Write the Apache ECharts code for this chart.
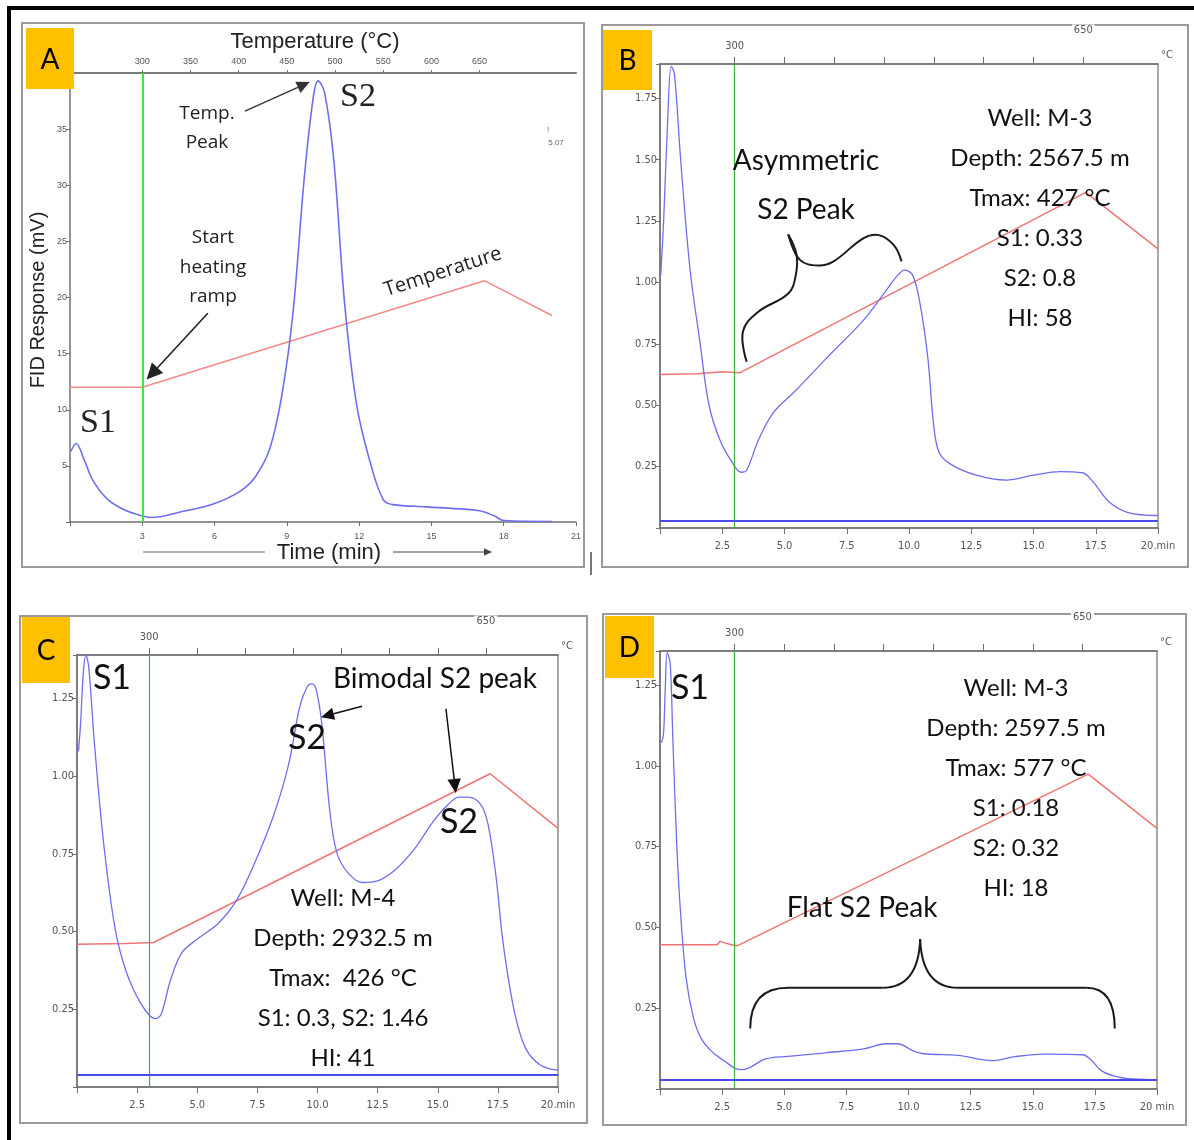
<!DOCTYPE html>
<html><head><meta charset="utf-8">
<script src="https://cdn.jsdelivr.net/npm/echarts@6/dist/echarts.min.js"></script>
<style>html,body{margin:0;padding:0;background:#fff}#c{width:1194px;height:1140px}</style>
</head><body><div id="c"></div>
<script>
// ---------------- DATA (time in min, response) ----------------
const tempTicksA = [300, 350, 400, 450, 500, 550, 600, 650];
const tempTicksBCD = [300, 350, 400, 450, 500, 550, 600, 650];

const fidA = [[0.03,6.3],[0.26,7.0],[0.57,5.65],[0.95,3.7],[1.57,2.0],[2.34,1.0],[3.0,0.55],[3.4,0.4],[4.5,0.85],[6.0,1.65],[7.1,2.8],[7.7,4.05],[8.3,6.6],[8.8,11.4],[9.26,18.75],[9.72,30.6],[10.1,37.9],[10.3,39.3],[10.57,38.2],[10.95,32.2],[11.4,19.4],[11.9,10.4],[12.5,5.0],[13.0,2.0],[13.4,1.55],[14.8,1.35],[17.0,1.0],[17.6,0.55],[18.0,0.13],[20.0,0.05]];
const tempA = [[-0.35,12.0],[3.0,12.0],[17.2,21.5],[20.0,18.4]];

const fidB = [[0.03,1.03],[0.15,1.26],[0.3,1.64],[0.45,1.88],[0.58,1.85],[0.83,1.50],[1.2,1.06],[1.6,0.76],[1.97,0.50],[2.42,0.355],[2.88,0.27],[3.26,0.227],[3.48,0.235],[3.94,0.355],[4.55,0.47],[5.45,0.56],[6.67,0.69],[8.2,0.85],[9.1,0.97],[9.55,1.03],[9.82,1.05],[10.15,1.03],[10.45,0.91],[10.76,0.69],[10.98,0.43],[11.2,0.31],[11.67,0.26],[12.7,0.215],[13.9,0.195],[15.0,0.215],[16.06,0.23],[16.97,0.225],[17.4,0.187],[18.03,0.107],[18.8,0.063],[20.0,0.051]];
const tempB = [[0,0.625],[1.5,0.628],[2.5,0.636],[3.2,0.632],[17.1,1.367],[20,1.137]];
const baseB = 0.034;

const fidC = [[0.06,1.08],[0.15,1.17],[0.26,1.33],[0.37,1.39],[0.49,1.35],[0.72,1.11],[1.1,0.79],[1.57,0.516],[2.03,0.375],[2.65,0.27],[3.26,0.22],[3.5,0.234],[3.88,0.342],[4.34,0.43],[4.95,0.473],[5.88,0.527],[6.65,0.603],[7.4,0.723],[8.18,0.875],[8.8,1.038],[9.26,1.223],[9.57,1.288],[9.77,1.297],[9.95,1.277],[10.18,1.168],[10.5,0.897],[10.8,0.755],[11.26,0.69],[11.88,0.658],[12.49,0.663],[13.26,0.701],[14.03,0.766],[14.8,0.853],[15.42,0.908],[15.88,0.933],[16.26,0.933],[16.8,0.908],[17.1,0.842],[17.42,0.679],[17.72,0.462],[18.18,0.245],[18.65,0.125],[19.26,0.071],[20.0,0.054]];
const tempC = [[0,0.459],[2.0,0.462],[3.18,0.465],[17.18,1.008],[20,0.832]];
const baseC = 0.038;

const fidD = [[0.06,1.071],[0.14,1.097],[0.21,1.233],[0.29,1.35],[0.41,1.317],[0.52,1.076],[0.67,0.763],[0.82,0.553],[1.05,0.344],[1.35,0.219],[1.66,0.156],[2.11,0.114],[2.57,0.088],[3.02,0.064],[3.33,0.06],[3.63,0.067],[4.24,0.093],[5.15,0.101],[6.67,0.112],[8.19,0.124],[9.1,0.14],[9.56,0.14],[10.17,0.119],[10.62,0.109],[11.99,0.104],[13.36,0.088],[14.27,0.1],[15.49,0.108],[17.0,0.106],[17.31,0.093],[17.77,0.056],[18.37,0.038],[18.83,0.032],[19.5,0.03],[20,0.028]];
const tempD = [[0,0.446],[2.3,0.446],[2.42,0.457],[2.6,0.452],[2.87,0.446],[3.1,0.443],[17.23,0.974],[20,0.806]];
const baseD = 0.032;

const infoB = ['Well: M-3','Depth: 2567.5 m','Tmax: 427 °C','S1: 0.33','S2: 0.8','HI: 58'];
const infoC = ['Well: M-4','Depth: 2932.5 m','Tmax:  426 °C','S1: 0.3, S2: 1.46','HI: 41'];
const infoD = ['Well: M-3','Depth: 2597.5 m','Tmax: 577 °C','S1: 0.18','S2: 0.32','HI: 18'];

// ---------------- STYLE ----------------
const BLUE = '#6e6ef0', RED = '#f07474', AX = '#707070', LBL = '#555';
const NARROW = '"Liberation Sans Narrow","DejaVu Sans Condensed","Liberation Sans",sans-serif';
const CAL = 'Lato,"Open Sans",sans-serif';

const chart = echarts.init(document.getElementById('c'));

const gridsPx = [
  {left:70, top:73, width:506, height:449, show:false},
  {left:660, top:64, width:498, height:464, show:true, borderColor:'#8c8c8c', borderWidth:1.5},
  {left:77, top:655, width:481, height:432, show:true, borderColor:'#8c8c8c', borderWidth:1.5},
  {left:660, top:651, width:497, height:438, show:true, borderColor:'#8c8c8c', borderWidth:1.5}
];
const yMax = [40, 1.89, 1.39, 1.355];
const xMax = [21, 20, 20, 20];

function isMult(v, s){ return Math.abs(v/s - Math.round(v/s)) < 1e-6; }

const xAxes = [], yAxes = [];
for (let g = 0; g < 4; g++) {
  const isA = g === 0;
  xAxes.push({
    type:'value', gridIndex:g, min:0, max:xMax[g], interval: isA ? 3 : 2.5,
    axisLine:{show:true, onZero:false, lineStyle:{color:AX, width:1.5}},
    axisTick:{show:true, length: isA ? 4 : 6, lineStyle:{color:AX}},
    splitLine:{show:false},
    axisLabel:{
      fontSize: isA ? 9 : 11, color:LBL, fontFamily: isA ? '"Liberation Sans",sans-serif' : NARROW, margin: isA ? 10 : 13,
      formatter: v => {
        if (v === 0) return '';
        if (isA) return String(v);
        if (v === 20) return g === 3 ? '20 min' : '20.min';
        return v.toFixed(1);
      }
    }
  });
  xAxes.push({
    type:'value', gridIndex:g, position:'top', min:225, max: isA ? 750 : 725,
    axisLine:{show:true, onZero:false, lineStyle:{color: isA ? '#7a7a7a' : AX, width: isA ? 2 : 1.5}},
    axisTick:{show:true, length: isA ? 3 : 7, customValues: isA ? tempTicksA : tempTicksBCD, lineStyle:{color:AX}},
    splitLine:{show:false},
    axisLabel:{show:isA, customValues: tempTicksA, fontSize:9, color:LBL, margin:7, fontFamily:'"Liberation Sans",sans-serif'}
  });
  const step = isA ? 5 : 0.25;
  yAxes.push({
    type:'value', gridIndex:g, min:0, max:yMax[g], interval: step,
    axisLine:{show:true, onZero:false, lineStyle:{color:AX, width:1.5}},
    axisTick:{show:true, length:4, lineStyle:{color:AX}},
    splitLine:{show:false},
    axisLabel:{
      fontSize: isA ? 9 : 11, color:LBL, fontFamily: isA ? '"Liberation Sans",sans-serif' : NARROW, margin:3,
      formatter: v => {
        if (v <= 0 || !isMult(v, step) || v > yMax[g] - step*0.3) return '';
        return isA ? String(v) : v.toFixed(2);
      }
    }
  });
}

function ml(baseline, isA) {
  const d = [{xAxis:3, lineStyle:{color: isA ? '#3ee83e' : '#3fae3f', width: isA ? 2 : 1.2, type:'solid'}}];
  if (baseline != null) d.push({yAxis:baseline, lineStyle:{color:'#4a4ae8', width:2, type:'solid'}});
  return {silent:true, symbol:['none','none'], label:{show:false}, animation:false, data:d};
}

const fids = [fidA, fidB, fidC, fidD];
const temps = [tempA, tempB, tempC, tempD];
const bases = [null, baseB, baseC, baseD];
const series = [];
for (let g = 0; g < 4; g++) {
  series.push({type:'line', xAxisIndex:2*g, yAxisIndex:g, data:temps[g], showSymbol:false, clip: g !== 0,
    lineStyle:{color: g===0 ? '#f38a8a' : RED, width:1.5}, z:2});
  series.push({type:'line', xAxisIndex:2*g, yAxisIndex:g, data:fids[g], showSymbol:false, smooth:0.35,
    lineStyle:{color:BLUE, width: g===0 ? 1.6 : 1.3}, z:3, markLine: ml(bases[g], g===0)});
}

chart.setOption({
  animation:false,
  backgroundColor:'#fff',
  grid: gridsPx,
  xAxis: xAxes,
  yAxis: yAxes,
  series: series
});

// ---------------- ANNOTATIONS ----------------
const P = (g, t, y) => chart.convertToPixel({gridIndex:g}, [t, y]);
const TX = (g, t) => chart.convertToPixel({xAxisIndex:2*g+1}, t);
const els = [];
function txt(x, y, s, font, opt) {
  opt = opt || {};
  els.push({type:'text', x:x, y:y, z:120, rotation: opt.rot || 0,
    style:{text:s, font:font, fill: opt.fill || '#111', align: opt.align || 'center', verticalAlign:'middle',
      backgroundColor: opt.bg, padding: opt.pad}});
}
function line(x1,y1,x2,y2,c,w){ els.push({type:'line', z:115, shape:{x1,y1,x2,y2}, style:{stroke:c, lineWidth:w}}); }
function arrow(p1, p2, head, w, c) {
  const dx=p2[0]-p1[0], dy=p2[1]-p1[1], L=Math.hypot(dx,dy), ux=dx/L, uy=dy/L;
  const bx=p2[0]-ux*head, by=p2[1]-uy*head, nx=-uy, ny=ux, hw=head*0.48;
  line(p1[0],p1[1],bx,by,c,w);
  els.push({type:'polygon', z:115, shape:{points:[[p2[0],p2[1]],[bx+nx*hw,by+ny*hw],[bx-nx*hw,by-ny*hw]]}, style:{fill:c}});
}
function curve(g, pts, w) {
  els.push({type:'polyline', z:115, shape:{points: pts.map(p => P(g,p[0],p[1])), smooth:0.4}, style:{stroke:'#1a1a1a', lineWidth:w, fill:null}});
}
function qcurve(g, a, c, b, w) {
  const A = P(g,a[0],a[1]), C = P(g,c[0],c[1]), B = P(g,b[0],b[1]);
  els.push({type:'bezierCurve', z:115, shape:{x1:A[0], y1:A[1], cpx1:C[0], cpy1:C[1], x2:B[0], y2:B[1]}, style:{stroke:'#1a1a1a', lineWidth:w, fill:null}});
}
function dline(g, a, b, w) {
  const A = P(g,a[0],a[1]), B = P(g,b[0],b[1]);
  line(A[0],A[1],B[0],B[1],'#1a1a1a',w);
}

// outer black frame
els.push({type:'rect', z:100, shape:{x:7, y:6, width:1190, height:4}, style:{fill:'#000'}});
els.push({type:'rect', z:100, shape:{x:7, y:6, width:4, height:1140}, style:{fill:'#000'}});
// panel borders
[[22,23,562,544],[602,25,586,542],[20,616,567,507],[603,614,583,511]].forEach(r =>
  els.push({type:'rect', z:100, shape:{x:r[0],y:r[1],width:r[2],height:r[3]}, style:{fill:null, stroke:'#9a9a9a', lineWidth:2}}));
line(591,552,591,575,'#777',2);
// letter boxes
[[26,28,48,61,'A'],[603,30,49,60,'B'],[22,617,48,66,'C'],[605,616,49,62,'D']].forEach(b => {
  els.push({type:'rect', z:110, shape:{x:b[0],y:b[1],width:b[2],height:b[3]}, style:{fill:'#FFC000'}});
  txt(b[0]+b[2]/2, b[1]+b[3]/2+1, b[4], '28px ' + CAL, {fill:'#000'});
});

// ----- Panel A -----
const SANS = '"Liberation Sans",Arial,sans-serif';
txt(315, 42, 'Temperature (°C)', '22px ' + SANS, {fill:'#222'});
txt(329, 553, 'Time (min)', '22px ' + SANS, {fill:'#222'});
txt(38, 300, 'FID Response (mV)', '20px ' + SANS, {fill:'#222', rot:Math.PI/2});
line(143,552,265,552,'#666',1);
arrow([393,552],[492,552],8,1,'#444');
txt(358, 97, 'S2', '34px "Liberation Serif","DejaVu Serif",serif', {fill:'#222'});
txt(98, 423, 'S1', '34px "Liberation Serif","DejaVu Serif",serif', {fill:'#222'});
const OS = '"Open Sans",Lato,sans-serif';
txt(207, 114, 'Temp.', '19px ' + OS, {fill:'#222'});
txt(207, 143, 'Peak', '19px ' + OS, {fill:'#222'});
txt(213, 238, 'Start', '19px ' + OS, {fill:'#222'});
txt(213, 268, 'heating', '19px ' + OS, {fill:'#222'});
txt(213, 297, 'ramp', '19px ' + OS, {fill:'#222'});
txt(443, 272, 'Temperature', '20px ' + OS, {fill:'#222', rot:18*Math.PI/180});
txt(548, 130, '!', '8px ' + SANS, {fill:'#666'});
txt(556, 143, '5.07', '8px ' + SANS, {fill:'#666'});
arrow(P(0,7.26,36.6), P(0,9.95,39.2), 13, 1.3, '#333');
arrow(P(0,5.72,18.6), P(0,3.18,12.7), 16, 1.6, '#222');

// ----- top temperature labels for B, C, D -----
[1,2,3].forEach(g => {
  const top = gridsPx[g].top;
  txt(TX(g,300), top-18, '300', '11px ' + NARROW, {fill:LBL});
  txt(TX(g,650), top-34, '650', '11px ' + NARROW, {fill:LBL, bg:'#fff', pad:[0,2]});
  txt(gridsPx[g].left + gridsPx[g].width + 9, top-9, '°C', '11px ' + NARROW, {fill:LBL});
});

// ----- Panel B -----
txt(806, 161, 'Asymmetric', '28px ' + CAL);
txt(806, 210, 'S2 Peak', '28px ' + CAL);
infoB.forEach((s,i) => txt(1040, 118 + i*40, s, '24px ' + CAL));
curve(1, [[3.48,0.677],[3.33,0.80],[3.94,0.88],[5.15,0.955],[5.45,1.028],[5.48,1.115],[5.15,1.196]], 2);
curve(1, [[5.15,1.196],[5.61,1.093],[6.36,1.069],[6.97,1.086],[8.18,1.181],[8.79,1.193],[9.39,1.152],[9.7,1.086]], 2);

// ----- Panel C -----
txt(112, 678, 'S1', '34px ' + CAL);
txt(435, 679, 'Bimodal S2 peak', '28px ' + CAL);
txt(307, 738, 'S2', '34px ' + CAL);
txt(459, 822, 'S2', '34px ' + CAL);
infoC.forEach((s,i) => txt(343, 898 + i*40, s, '24px ' + CAL));
arrow(P(2,11.85,1.225), P(2,10.15,1.19), 13, 1.5, '#111');
arrow(P(2,15.34,1.217), P(2,15.75,0.946), 14, 1.5, '#111');

// ----- Panel D -----
txt(690, 688, 'S1', '34px ' + CAL);
txt(862, 908, 'Flat S2 Peak', '28px ' + CAL);
infoD.forEach((s,i) => txt(1016, 688 + i*40, s, '24px ' + CAL));
qcurve(3, [3.63,0.187], [3.63,0.313], [5.15,0.313], 2);
dline(3, [5.15,0.313], [8.95,0.313], 2);
qcurve(3, [8.95,0.313], [10.4,0.313], [10.47,0.464], 2);
qcurve(3, [10.47,0.464], [10.54,0.313], [11.99,0.313], 2);
dline(3, [11.99,0.313], [17.16,0.313], 2);
qcurve(3, [17.16,0.313], [18.3,0.313], [18.3,0.187], 2);

chart.setOption({graphic:{elements:els}});
</script></body></html>
